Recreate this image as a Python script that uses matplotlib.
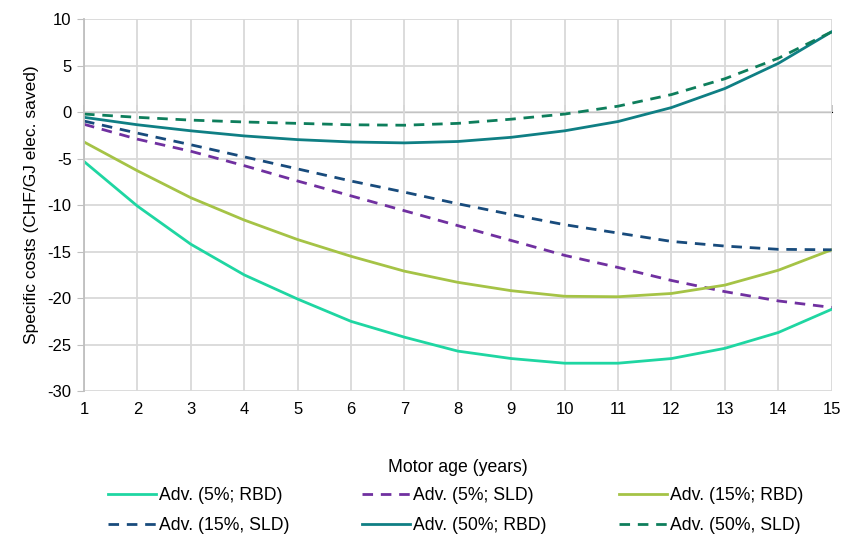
import numpy as np
import matplotlib.pyplot as plt

plt.rcParams['font.family'] = ['Liberation Sans', 'DejaVu Sans']
plt.rcParams['axes.unicode_minus'] = False

age = np.arange(1, 16)

adv5_rbd = [-5.3, -10.1, -14.2, -17.5, -20.1, -22.5, -24.2, -25.7, -26.5, -27.0, -27.0, -26.5, -25.4, -23.7, -21.2]
adv5_sld = [-1.3, -2.9, -4.2, -5.75, -7.4, -9.0, -10.6, -12.2, -13.8, -15.4, -16.7, -18.1, -19.3, -20.3, -21.0]
adv15_rbd = [-3.2, -6.3, -9.2, -11.6, -13.7, -15.5, -17.1, -18.3, -19.2, -19.8, -19.85, -19.5, -18.6, -17.0, -14.8]
adv15_sld = [-0.95, -2.25, -3.5, -4.8, -6.1, -7.4, -8.6, -9.85, -11.0, -12.1, -13.0, -13.9, -14.4, -14.75, -14.8]
adv50_rbd = [-0.55, -1.35, -2.0, -2.55, -2.95, -3.2, -3.3, -3.15, -2.7, -2.0, -1.0, 0.5, 2.55, 5.25, 8.65]
adv50_sld = [-0.2, -0.55, -0.85, -1.05, -1.2, -1.35, -1.4, -1.2, -0.75, -0.2, 0.65, 1.9, 3.6, 5.8, 8.65]

series = [
    ("Adv. (5%; RBD)", adv5_rbd, "#1fd6a2", "-"),
    ("Adv. (5%; SLD)", adv5_sld, "#7030a0", "--"),
    ("Adv. (15%; RBD)", adv15_rbd, "#a5c346", "-"),
    ("Adv. (15%, SLD)", adv15_sld, "#184b7c", "--"),
    ("Adv. (50%; RBD)", adv50_rbd, "#0f7f84", "-"),
    ("Adv. (50%, SLD)", adv50_sld, "#0e7e5c", "--"),
]

fig = plt.figure(figsize=(8.41, 5.35), dpi=100)
ax = fig.add_axes([0.0999, 0.269, 0.889, 0.695])

handles = []
for label, vals, color, ls in series:
    if ls == "--":
        h, = ax.plot(age, vals, color=color, lw=2, dashes=(3.8, 2.8), label=label)
    else:
        h, = ax.plot(age, vals, color=color, lw=2, label=label)
    handles.append(h)

ax.set_xlim(1, 15)
ax.set_ylim(-30, 10)
ax.set_xticks(age)
ax.set_yticks(np.arange(-30, 11, 5))
ax.grid(True, color="#d9d9d9", lw=1.3)
ax.set_axisbelow(True)
for s in ["top", "right", "bottom"]:
    ax.spines[s].set_visible(False)
ax.spines["left"].set_color("#bfbfbf")
ax.spines["left"].set_linewidth(1.3)
ax.tick_params(axis="y", length=5, color="#bfbfbf", labelsize=12, pad=4)
ax.tick_params(axis="x", length=0, labelsize=12, pad=8)

# horizontal axis line crossing at zero, with tick marks
sec = ax.secondary_xaxis(0.75)
sec.set_xticks(age)
sec.set_xticklabels([])
sec.tick_params(length=5, color="#bfbfbf", width=1.3)
sec.spines["bottom"].set_color("#bfbfbf")
sec.spines["bottom"].set_linewidth(1.3)

ax.set_ylabel("Specific costs (CHF/GJ elec. saved)", fontsize=12.5, labelpad=6)
ax.set_xlabel("Motor age (years)", fontsize=12.7, labelpad=30)

order = [0, 3, 1, 4, 2, 5]
fig.legend([handles[i] for i in order], [series[i][0] for i in order],
           ncol=3, loc="lower left", bbox_to_anchor=(0.117, -0.017),
           frameon=False, fontsize=12.7, handlelength=2.7, handletextpad=0.2,
           columnspacing=4.1, labelspacing=0.75, borderpad=0.05)

fig.savefig("out.png", dpi=100)
